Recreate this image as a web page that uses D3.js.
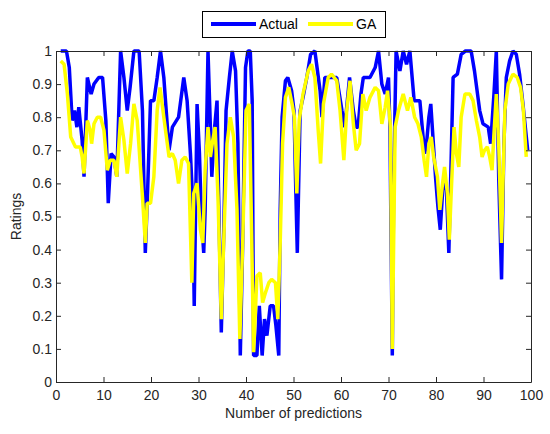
<!DOCTYPE html>
<html lang="en">
	<head>
        <meta charset="utf-8">
        <title>Actual vs GA ratings</title>
        <style type="text/css">
            body { margin: 0; background: #fff; }
            text { font-family: "Liberation Sans", Arial, sans-serif; }
        </style>
        <script type="text/javascript" src="https://cdn.jsdelivr.net/npm/d3@7"></script>
	</head>
	<body>
		<script type="text/javascript">
			// Values.
			var actualX = [1,2.2,2.8,3.4,3.9,4.4,4.8,5.5,5.9,6.6,7.4,8,9,9.8,10.5,11,11.6,12.2,12.8,13.6,14.3,15,15.6,16.4,17.5,18.2,18.8,19.2,19.9,20.6,21.3,22,22.7,23.8,24.5,25.8,26.9,27.6,28.3,28.8,29.1,29.7,30.2,30.6,31.1,31.4,32,32.5,32.8,33.4,33.9,34.2,34.8,35.3,35.8,36.5,37.1,37.8,38.3,38.8,39.3,39.9,40.4,40.9,41.3,41.6,42.3,42.8,43.4,43.9,44.4,45.1,45.8,46.3,46.9,47.2,47.6,48.3,48.8,49.6,50.1,50.5,50.8,51.4,52,52.8,53.6,54.5,55.6,56,56.6,57.7,59.1,60.2,60.8,61.8,62.6,63.2,63.6,64.2,64.7,66.1,67.2,67.9,68.6,69.3,70,70.3,70.8,71.1,71.6,72.4,73.1,73.8,74.5,75.4,76.6,77.1,77.6,78,78.5,78.9,79.4,79.9,80.4,80.9,81.5,82.2,82.7,83.1,83.6,84.5,85.3,86.2,87.4,88.1,89.2,89.9,91,91.5,92.2,92.7,93.2,93.8,94.3,94.8,95.5,96.2,96.9,97.6,98.3,98.8,99.3];
			var actualY = [1,1,0.95,0.79,0.82,0.77,0.83,0.73,0.62,0.92,0.87,0.9,0.92,0.92,0.79,0.54,0.69,0.68,0.62,1,0.92,0.82,0.89,1,1,0.82,0.39,0.54,0.85,0.85,0.92,1,0.92,0.7,0.77,0.8,0.92,0.85,0.69,0.54,0.23,0.84,0.69,0.5,0.39,0.52,1,0.77,0.62,0.77,0.85,0.59,0.15,0.44,0.82,0.92,1,0.94,0.72,0.08,0.42,0.95,1,1,0.85,0.08,0.08,0.23,0.08,0.19,0.14,0.23,0.23,0.17,0.08,0.52,0.8,0.91,0.92,0.88,0.82,0.57,0.39,0.82,0.86,0.92,0.99,1,0.88,0.8,0.92,0.92,0.92,0.82,0.77,0.92,0.82,0.77,0.77,0.87,0.92,0.92,0.95,1,0.9,0.87,0.92,0.77,0.08,0.62,1,0.94,1,0.96,1,0.85,0.85,0.77,0.69,0.72,0.8,0.84,0.73,0.62,0.53,0.46,0.6,0.58,0.39,0.62,0.92,0.93,0.99,1,1,0.94,0.82,0.78,0.77,0.72,0.87,1,0.62,0.31,0.72,0.92,0.97,1,0.99,0.93,0.84,0.77,0.7];

			var gaX = [1,1.7,2.4,3.1,4.1,5.1,5.5,5.9,6.6,7.2,7.5,8,8.7,9.4,10.1,10.8,11.4,12.2,12.8,13.6,14.3,15,15.7,16.4,17.1,18.2,18.8,19.2,19.9,20.6,21.3,21.9,22.7,23.8,24.5,25.1,25.8,26.5,27.2,27.9,28.6,29,29.7,30.4,30.9,31.4,32,32.5,33,33.5,34.1,34.8,35.3,36,36.7,37.4,38.1,38.7,39.3,40,40.7,41.1,41.6,42.3,43,43.5,44.1,44.8,45.4,46.2,46.7,47.2,47.7,48.3,49,49.7,50.2,50.7,51.2,52,53.1,53.8,54.5,55.2,55.7,56.3,57.3,58,59.1,59.8,60.6,61.2,61.9,62.6,63.2,63.9,64.6,65.3,66.1,67.2,67.9,68.6,69.3,69.8,70.4,70.8,71.4,72.1,73.1,74,74.7,75.5,76.2,76.9,77.5,78,78.5,79,79.5,80.3,80.8,81.3,81.8,82.4,82.8,83.2,83.8,84.3,84.8,85.3,86.1,87.1,87.8,88.5,89.2,89.7,90.2,90.8,91.3,91.8,92.2,92.7,93.2,93.8,94.1,94.5,95.2,96.2,97.1,97.8,98.4,99];
			var gaY = [0.97,0.96,0.87,0.74,0.71,0.71,0.68,0.63,0.79,0.76,0.72,0.78,0.8,0.8,0.76,0.64,0.67,0.67,0.62,0.8,0.73,0.63,0.72,0.84,0.79,0.56,0.42,0.54,0.54,0.62,0.82,0.89,0.8,0.68,0.69,0.67,0.6,0.67,0.68,0.66,0.3,0.57,0.6,0.46,0.42,0.64,0.77,0.68,0.73,0.77,0.56,0.19,0.42,0.72,0.8,0.74,0.52,0.13,0.42,0.82,0.84,0.52,0.09,0.32,0.33,0.24,0.27,0.3,0.31,0.3,0.19,0.42,0.72,0.86,0.89,0.84,0.8,0.57,0.79,0.87,0.94,0.96,0.92,0.76,0.66,0.84,0.92,0.93,0.91,0.82,0.67,0.82,0.91,0.78,0.7,0.72,0.87,0.82,0.86,0.89,0.88,0.78,0.83,0.88,0.77,0.1,0.77,0.82,0.87,0.82,0.86,0.8,0.78,0.74,0.67,0.62,0.72,0.74,0.68,0.62,0.52,0.59,0.65,0.57,0.43,0.57,0.77,0.69,0.65,0.8,0.87,0.87,0.85,0.79,0.74,0.68,0.7,0.71,0.68,0.64,0.75,0.87,0.72,0.42,0.6,0.82,0.9,0.93,0.92,0.89,0.82,0.68];

			var seriesNames = ["Actual", "GA"];
			var seriesColors = ["#0000ff", "#ffff00"];

			var xTicks = [0,10,20,30,40,50,60,70,80,90,100];
			var xTickLabels = ["0","10","20","30","40","50","60","70","80","90","100"];
			var yTicks = [0,0.1,0.2,0.3,0.4,0.5,0.6,0.7,0.8,0.9,1];
			var yTickLabels = ["0","0.1","0.2","0.3","0.4","0.5","0.6","0.7","0.8","0.9","1"];

			// Width and height
			var w = 550;
			var h = 434;
			// plot box (window.top is read-only, so use other names)
			var plotL = 56, plotR = 531, plotT = 51, plotB = 382;

			var svg = d3.select("body")
						.append("svg")
						.attr("width", w)
						.attr("height", h);

			svg.append("rect")
				.attr("width", w)
				.attr("height", h)
				.attr("fill", "#fff");

			var x = d3.scaleLinear().domain([0, 100]).range([plotL, plotR]);
			var y = d3.scaleLinear().domain([0, 1]).range([plotB, plotT]);

			// Lines, GA drawn over Actual.
			var line = d3.line()
						.x(function(d) { return x(d[0]); })
						.y(function(d) { return y(d[1]); });

			var series = [d3.zip(actualX, actualY), d3.zip(gaX, gaY)];

			svg.selectAll("path.series")
				.data(series)
				.enter()
				.append("path")
				.attr("class", "series")
				.attr("d", line)
				.attr("fill", "none")
				.attr("stroke", function(d, i) { return seriesColors[i]; })
				.attr("stroke-width", 3.5)
				.attr("stroke-linejoin", "bevel");

			// Axes with inward ticks on all four sides.
			var axisColor = "#262626";

			function styleAxis(g) {
				g.selectAll("path.domain").attr("stroke", axisColor);
				g.selectAll(".tick line").attr("stroke", axisColor);
				g.selectAll(".tick text")
					.attr("fill", "#262626")
					.style("font-size", "14px")
					.style("font-family", "'Liberation Sans', Arial, sans-serif");
			}

			svg.append("g")
				.attr("transform", "translate(0," + plotB + ")")
				.call(d3.axisBottom(x).tickValues(xTicks)
					.tickFormat(function(d, i) { return xTickLabels[i]; })
					.tickSize(-5).tickSizeOuter(0).tickPadding(8))
				.call(styleAxis);

			svg.append("g")
				.attr("transform", "translate(" + plotL + ",0)")
				.call(d3.axisLeft(y).tickValues(yTicks)
					.tickFormat(function(d, i) { return yTickLabels[i]; })
					.tickSize(-5).tickSizeOuter(0).tickPadding(4))
				.call(styleAxis);

			svg.append("g")
				.attr("transform", "translate(0," + plotT + ")")
				.call(d3.axisTop(x).tickValues(xTicks).tickFormat("")
					.tickSize(-5).tickSizeOuter(0))
				.call(styleAxis);

			svg.append("g")
				.attr("transform", "translate(" + plotR + ",0)")
				.call(d3.axisRight(y).tickValues(yTicks).tickFormat("")
					.tickSize(-5).tickSizeOuter(0))
				.call(styleAxis);

			// Axis titles
			svg.append("text")
				.attr("x", (plotL + plotR) / 2)
				.attr("y", 418)
				.attr("text-anchor", "middle")
				.style("font-size", "14px")
				.attr("fill", "#262626")
				.text("Number of predictions");

			svg.append("text")
				.attr("transform", "translate(21," + (plotT + plotB) / 2 + ") rotate(-90)")
				.attr("text-anchor", "middle")
				.style("font-size", "14px")
				.attr("fill", "#262626")
				.text("Ratings");

			// Legend
			var legend = svg.append("g");
			legend.append("rect")
				.attr("x", 202.5)
				.attr("y", 11.5)
				.attr("width", 183)
				.attr("height", 26)
				.attr("fill", "#fff")
				.attr("stroke", "#000")
				.attr("stroke-width", 1);

			var legendX = [211, 308];
			seriesNames.forEach(function(name, i) {
				legend.append("line")
					.attr("x1", legendX[i])
					.attr("x2", legendX[i] + 45)
					.attr("y1", 24)
					.attr("y2", 24)
					.attr("stroke", seriesColors[i])
					.attr("stroke-width", 4);
				legend.append("text")
					.attr("x", legendX[i] + 48)
					.attr("y", 29)
					.style("font-size", "14px")
					.attr("fill", "#000")
					.text(name);
			});
		</script>
	</body>
</html>
